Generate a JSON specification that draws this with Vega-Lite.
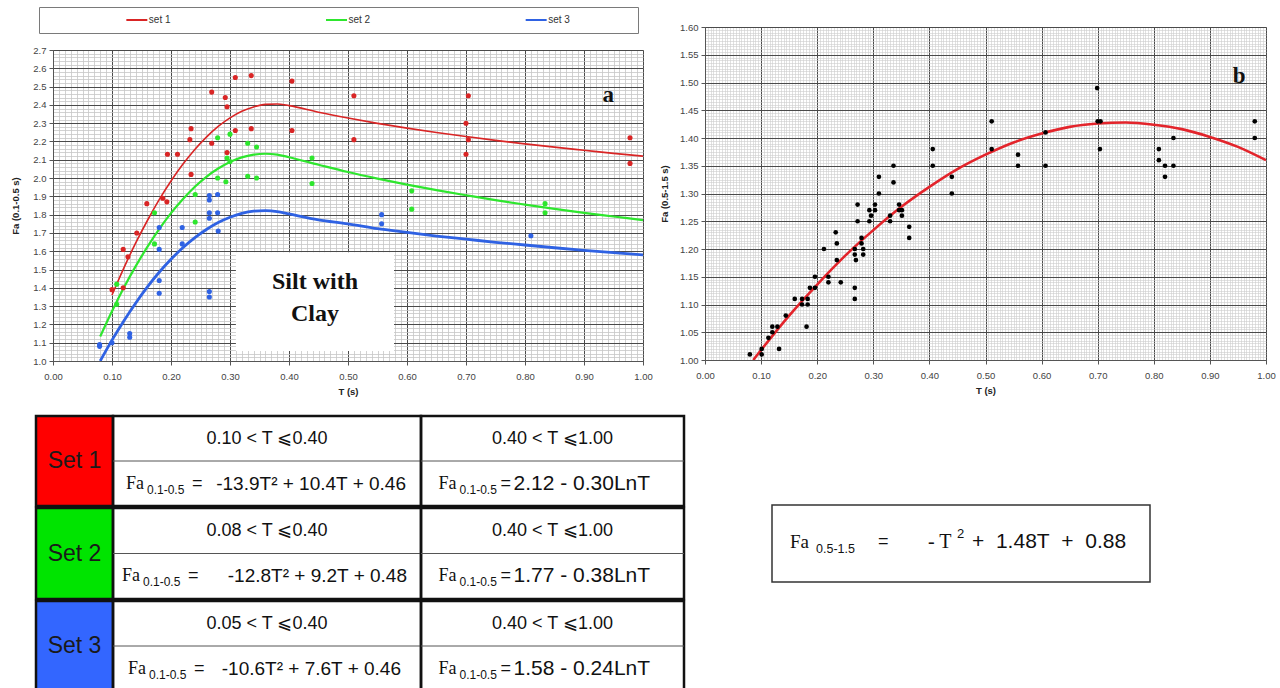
{
  "$schema": "https://vega.github.io/schema/vega-lite/v6.json",
  "background": "white",
  "padding": {"left": 10, "top": 6, "right": 0, "bottom": 0},
  "config": {
    "view": {"stroke": null},
    "font": "Liberation Sans",
    "axis": {"labelFont": "Liberation Sans", "titleFont": "Liberation Sans"},
    "text": {"font": "Liberation Sans", "color": "#111"}
  },
  "datasets": {
    "legend": [{"set": "set 1"}, {"set": "set 2"}, {"set": "set 3"}],
    "lpts": [
      {"set": "set 1", "T": 0.100, "Fa": 1.39}, {"set": "set 1", "T": 0.119, "Fa": 1.61}, {"set": "set 1", "T": 0.119, "Fa": 1.40},
      {"set": "set 1", "T": 0.127, "Fa": 1.57}, {"set": "set 1", "T": 0.142, "Fa": 1.70}, {"set": "set 1", "T": 0.159, "Fa": 1.86},
      {"set": "set 1", "T": 0.186, "Fa": 1.89}, {"set": "set 1", "T": 0.193, "Fa": 1.87}, {"set": "set 1", "T": 0.194, "Fa": 2.13},
      {"set": "set 1", "T": 0.211, "Fa": 2.13}, {"set": "set 1", "T": 0.232, "Fa": 2.21}, {"set": "set 1", "T": 0.234, "Fa": 2.27},
      {"set": "set 1", "T": 0.234, "Fa": 2.02}, {"set": "set 1", "T": 0.269, "Fa": 2.47}, {"set": "set 1", "T": 0.269, "Fa": 2.19},
      {"set": "set 1", "T": 0.292, "Fa": 2.44}, {"set": "set 1", "T": 0.295, "Fa": 2.39}, {"set": "set 1", "T": 0.295, "Fa": 2.14},
      {"set": "set 1", "T": 0.309, "Fa": 2.55}, {"set": "set 1", "T": 0.309, "Fa": 2.26}, {"set": "set 1", "T": 0.336, "Fa": 2.56},
      {"set": "set 1", "T": 0.336, "Fa": 2.27}, {"set": "set 1", "T": 0.405, "Fa": 2.53}, {"set": "set 1", "T": 0.405, "Fa": 2.26},
      {"set": "set 1", "T": 0.510, "Fa": 2.45}, {"set": "set 1", "T": 0.510, "Fa": 2.21}, {"set": "set 1", "T": 0.704, "Fa": 2.45},
      {"set": "set 1", "T": 0.700, "Fa": 2.30}, {"set": "set 1", "T": 0.704, "Fa": 2.21}, {"set": "set 1", "T": 0.700, "Fa": 2.13},
      {"set": "set 1", "T": 0.978, "Fa": 2.22}, {"set": "set 1", "T": 0.978, "Fa": 2.08},
      {"set": "set 2", "T": 0.108, "Fa": 1.42}, {"set": "set 2", "T": 0.108, "Fa": 1.31}, {"set": "set 2", "T": 0.172, "Fa": 1.81},
      {"set": "set 2", "T": 0.172, "Fa": 1.64}, {"set": "set 2", "T": 0.241, "Fa": 1.91}, {"set": "set 2", "T": 0.241, "Fa": 1.76},
      {"set": "set 2", "T": 0.279, "Fa": 2.22}, {"set": "set 2", "T": 0.279, "Fa": 2.00}, {"set": "set 2", "T": 0.293, "Fa": 1.98},
      {"set": "set 2", "T": 0.295, "Fa": 2.11}, {"set": "set 2", "T": 0.300, "Fa": 2.09}, {"set": "set 2", "T": 0.300, "Fa": 2.24},
      {"set": "set 2", "T": 0.330, "Fa": 2.19}, {"set": "set 2", "T": 0.330, "Fa": 2.01}, {"set": "set 2", "T": 0.345, "Fa": 2.17},
      {"set": "set 2", "T": 0.345, "Fa": 2.00}, {"set": "set 2", "T": 0.439, "Fa": 2.11}, {"set": "set 2", "T": 0.439, "Fa": 1.97},
      {"set": "set 2", "T": 0.608, "Fa": 1.93}, {"set": "set 2", "T": 0.608, "Fa": 1.83}, {"set": "set 2", "T": 0.834, "Fa": 1.86},
      {"set": "set 2", "T": 0.834, "Fa": 1.81},
      {"set": "set 3", "T": 0.079, "Fa": 1.09}, {"set": "set 3", "T": 0.079, "Fa": 1.08}, {"set": "set 3", "T": 0.100, "Fa": 1.10},
      {"set": "set 3", "T": 0.130, "Fa": 1.15}, {"set": "set 3", "T": 0.130, "Fa": 1.13}, {"set": "set 3", "T": 0.180, "Fa": 1.73},
      {"set": "set 3", "T": 0.180, "Fa": 1.61}, {"set": "set 3", "T": 0.180, "Fa": 1.44}, {"set": "set 3", "T": 0.180, "Fa": 1.37},
      {"set": "set 3", "T": 0.219, "Fa": 1.73}, {"set": "set 3", "T": 0.219, "Fa": 1.64}, {"set": "set 3", "T": 0.265, "Fa": 1.905},
      {"set": "set 3", "T": 0.265, "Fa": 1.88}, {"set": "set 3", "T": 0.279, "Fa": 1.91}, {"set": "set 3", "T": 0.265, "Fa": 1.81},
      {"set": "set 3", "T": 0.265, "Fa": 1.78}, {"set": "set 3", "T": 0.279, "Fa": 1.81}, {"set": "set 3", "T": 0.280, "Fa": 1.71},
      {"set": "set 3", "T": 0.265, "Fa": 1.38}, {"set": "set 3", "T": 0.265, "Fa": 1.35}, {"set": "set 3", "T": 0.557, "Fa": 1.80},
      {"set": "set 3", "T": 0.557, "Fa": 1.75}, {"set": "set 3", "T": 0.810, "Fa": 1.685}
    ],
    "lcurve": [
      {"set": "set 1", "T": 0.10, "Fa": 1.361}, {"set": "set 1", "T": 0.12, "Fa": 1.508}, {"set": "set 1", "T": 0.14, "Fa": 1.644},
      {"set": "set 1", "T": 0.16, "Fa": 1.768}, {"set": "set 1", "T": 0.18, "Fa": 1.882}, {"set": "set 1", "T": 0.20, "Fa": 1.984},
      {"set": "set 1", "T": 0.22, "Fa": 2.075}, {"set": "set 1", "T": 0.24, "Fa": 2.155}, {"set": "set 1", "T": 0.26, "Fa": 2.224},
      {"set": "set 1", "T": 0.28, "Fa": 2.282}, {"set": "set 1", "T": 0.30, "Fa": 2.329}, {"set": "set 1", "T": 0.32, "Fa": 2.365},
      {"set": "set 1", "T": 0.34, "Fa": 2.389}, {"set": "set 1", "T": 0.36, "Fa": 2.403}, {"set": "set 1", "T": 0.38, "Fa": 2.405},
      {"set": "set 1", "T": 0.40, "Fa": 2.396}, {"set": "set 1", "T": 0.45, "Fa": 2.360}, {"set": "set 1", "T": 0.50, "Fa": 2.328},
      {"set": "set 1", "T": 0.55, "Fa": 2.299}, {"set": "set 1", "T": 0.60, "Fa": 2.273}, {"set": "set 1", "T": 0.65, "Fa": 2.249},
      {"set": "set 1", "T": 0.70, "Fa": 2.227}, {"set": "set 1", "T": 0.75, "Fa": 2.206}, {"set": "set 1", "T": 0.80, "Fa": 2.187},
      {"set": "set 1", "T": 0.85, "Fa": 2.169}, {"set": "set 1", "T": 0.90, "Fa": 2.152}, {"set": "set 1", "T": 0.95, "Fa": 2.135},
      {"set": "set 1", "T": 1.00, "Fa": 2.120},
      {"set": "set 2", "T": 0.08, "Fa": 1.134}, {"set": "set 2", "T": 0.10, "Fa": 1.272}, {"set": "set 2", "T": 0.12, "Fa": 1.400},
      {"set": "set 2", "T": 0.14, "Fa": 1.517}, {"set": "set 2", "T": 0.16, "Fa": 1.624}, {"set": "set 2", "T": 0.18, "Fa": 1.721},
      {"set": "set 2", "T": 0.20, "Fa": 1.808}, {"set": "set 2", "T": 0.22, "Fa": 1.884}, {"set": "set 2", "T": 0.24, "Fa": 1.951},
      {"set": "set 2", "T": 0.26, "Fa": 2.007}, {"set": "set 2", "T": 0.28, "Fa": 2.052}, {"set": "set 2", "T": 0.30, "Fa": 2.088},
      {"set": "set 2", "T": 0.32, "Fa": 2.113}, {"set": "set 2", "T": 0.34, "Fa": 2.128}, {"set": "set 2", "T": 0.36, "Fa": 2.133},
      {"set": "set 2", "T": 0.38, "Fa": 2.128}, {"set": "set 2", "T": 0.40, "Fa": 2.114}, {"set": "set 2", "T": 0.45, "Fa": 2.073},
      {"set": "set 2", "T": 0.50, "Fa": 2.033}, {"set": "set 2", "T": 0.55, "Fa": 1.997}, {"set": "set 2", "T": 0.60, "Fa": 1.964},
      {"set": "set 2", "T": 0.65, "Fa": 1.934}, {"set": "set 2", "T": 0.70, "Fa": 1.906}, {"set": "set 2", "T": 0.75, "Fa": 1.879},
      {"set": "set 2", "T": 0.80, "Fa": 1.855}, {"set": "set 2", "T": 0.85, "Fa": 1.832}, {"set": "set 2", "T": 0.90, "Fa": 1.810},
      {"set": "set 2", "T": 0.95, "Fa": 1.790}, {"set": "set 2", "T": 1.00, "Fa": 1.770},
      {"set": "set 3", "T": 0.08, "Fa": 1.000}, {"set": "set 3", "T": 0.10, "Fa": 1.114}, {"set": "set 3", "T": 0.12, "Fa": 1.219},
      {"set": "set 3", "T": 0.14, "Fa": 1.316}, {"set": "set 3", "T": 0.16, "Fa": 1.405}, {"set": "set 3", "T": 0.18, "Fa": 1.485},
      {"set": "set 3", "T": 0.20, "Fa": 1.556}, {"set": "set 3", "T": 0.22, "Fa": 1.619}, {"set": "set 3", "T": 0.24, "Fa": 1.673},
      {"set": "set 3", "T": 0.26, "Fa": 1.719}, {"set": "set 3", "T": 0.28, "Fa": 1.757}, {"set": "set 3", "T": 0.30, "Fa": 1.786},
      {"set": "set 3", "T": 0.32, "Fa": 1.807}, {"set": "set 3", "T": 0.34, "Fa": 1.819}, {"set": "set 3", "T": 0.36, "Fa": 1.822},
      {"set": "set 3", "T": 0.38, "Fa": 1.817}, {"set": "set 3", "T": 0.40, "Fa": 1.804}, {"set": "set 3", "T": 0.45, "Fa": 1.772},
      {"set": "set 3", "T": 0.50, "Fa": 1.750}, {"set": "set 3", "T": 0.55, "Fa": 1.723}, {"set": "set 3", "T": 0.60, "Fa": 1.703},
      {"set": "set 3", "T": 0.65, "Fa": 1.683}, {"set": "set 3", "T": 0.70, "Fa": 1.666}, {"set": "set 3", "T": 0.75, "Fa": 1.649},
      {"set": "set 3", "T": 0.80, "Fa": 1.634}, {"set": "set 3", "T": 0.85, "Fa": 1.619}, {"set": "set 3", "T": 0.90, "Fa": 1.605},
      {"set": "set 3", "T": 0.95, "Fa": 1.592}, {"set": "set 3", "T": 1.00, "Fa": 1.580}
    ],
    "lbox": [{"T0": 0.31, "T1": 0.578, "F0": 1.055, "F1": 1.595}],
    "lsilt": [{"T": 0.444, "Fa": 1.43, "label": "Silt with"}, {"T": 0.444, "Fa": 1.255, "label": "Clay"}],
    "lletter": [{"T": 0.941, "Fa": 2.455, "label": "a"}],
    "rpts": [
      {"T": 0.080, "Fa": 1.01}, {"T": 0.101, "Fa": 1.02}, {"T": 0.101, "Fa": 1.01}, {"T": 0.113, "Fa": 1.04}, {"T": 0.120, "Fa": 1.05},
      {"T": 0.120, "Fa": 1.06}, {"T": 0.129, "Fa": 1.06}, {"T": 0.132, "Fa": 1.02}, {"T": 0.144, "Fa": 1.08}, {"T": 0.160, "Fa": 1.11},
      {"T": 0.173, "Fa": 1.11}, {"T": 0.173, "Fa": 1.10}, {"T": 0.183, "Fa": 1.11}, {"T": 0.183, "Fa": 1.10}, {"T": 0.181, "Fa": 1.06},
      {"T": 0.187, "Fa": 1.13}, {"T": 0.196, "Fa": 1.13}, {"T": 0.196, "Fa": 1.15}, {"T": 0.212, "Fa": 1.20}, {"T": 0.220, "Fa": 1.15},
      {"T": 0.220, "Fa": 1.14}, {"T": 0.233, "Fa": 1.23}, {"T": 0.235, "Fa": 1.21}, {"T": 0.235, "Fa": 1.18}, {"T": 0.242, "Fa": 1.14},
      {"T": 0.267, "Fa": 1.20}, {"T": 0.267, "Fa": 1.19}, {"T": 0.269, "Fa": 1.18}, {"T": 0.267, "Fa": 1.13}, {"T": 0.267, "Fa": 1.11},
      {"T": 0.272, "Fa": 1.28}, {"T": 0.272, "Fa": 1.25}, {"T": 0.279, "Fa": 1.22}, {"T": 0.279, "Fa": 1.21}, {"T": 0.282, "Fa": 1.20},
      {"T": 0.282, "Fa": 1.19}, {"T": 0.293, "Fa": 1.27}, {"T": 0.293, "Fa": 1.25}, {"T": 0.296, "Fa": 1.26}, {"T": 0.303, "Fa": 1.28},
      {"T": 0.303, "Fa": 1.27}, {"T": 0.310, "Fa": 1.30}, {"T": 0.310, "Fa": 1.33}, {"T": 0.330, "Fa": 1.26}, {"T": 0.330, "Fa": 1.25},
      {"T": 0.336, "Fa": 1.35}, {"T": 0.336, "Fa": 1.32}, {"T": 0.346, "Fa": 1.28}, {"T": 0.346, "Fa": 1.27}, {"T": 0.351, "Fa": 1.27},
      {"T": 0.351, "Fa": 1.26}, {"T": 0.364, "Fa": 1.24}, {"T": 0.364, "Fa": 1.22}, {"T": 0.406, "Fa": 1.38}, {"T": 0.406, "Fa": 1.35},
      {"T": 0.440, "Fa": 1.33}, {"T": 0.440, "Fa": 1.30}, {"T": 0.511, "Fa": 1.43}, {"T": 0.511, "Fa": 1.38}, {"T": 0.558, "Fa": 1.37},
      {"T": 0.558, "Fa": 1.35}, {"T": 0.607, "Fa": 1.41}, {"T": 0.607, "Fa": 1.35}, {"T": 0.699, "Fa": 1.49}, {"T": 0.700, "Fa": 1.43},
      {"T": 0.705, "Fa": 1.43}, {"T": 0.704, "Fa": 1.38}, {"T": 0.809, "Fa": 1.38}, {"T": 0.809, "Fa": 1.36}, {"T": 0.820, "Fa": 1.35},
      {"T": 0.820, "Fa": 1.33}, {"T": 0.835, "Fa": 1.40}, {"T": 0.835, "Fa": 1.35}, {"T": 0.980, "Fa": 1.43}, {"T": 0.980, "Fa": 1.40}
    ],
    "rcurve": [
      {"T": 0.086, "Fa": 1.000}, {"T": 0.10, "Fa": 1.018}, {"T": 0.15, "Fa": 1.080}, {"T": 0.20, "Fa": 1.136}, {"T": 0.25, "Fa": 1.188},
      {"T": 0.30, "Fa": 1.234}, {"T": 0.35, "Fa": 1.276}, {"T": 0.40, "Fa": 1.312}, {"T": 0.45, "Fa": 1.344}, {"T": 0.50, "Fa": 1.370},
      {"T": 0.55, "Fa": 1.392}, {"T": 0.60, "Fa": 1.408}, {"T": 0.65, "Fa": 1.420}, {"T": 0.70, "Fa": 1.426}, {"T": 0.75, "Fa": 1.428},
      {"T": 0.80, "Fa": 1.424}, {"T": 0.85, "Fa": 1.416}, {"T": 0.90, "Fa": 1.402}, {"T": 0.95, "Fa": 1.384}, {"T": 1.00, "Fa": 1.360}
    ],
    "rletter": [{"T": 0.952, "Fa": 1.512, "label": "b"}],
    "sets": [{"set": "Set 1"}, {"set": "Set 2"}, {"set": "Set 3"}],
    "cells": [
      {"set": "Set 1", "col": "c1", "part": "range", "t": "0.10 < T ⩽0.40"},
      {"set": "Set 1", "col": "c1", "part": "formula", "fa": "Fa", "sub": "0.1-0.5", "eq": "=", "expr": "-13.9T² + 10.4T + 0.46"},
      {"set": "Set 1", "col": "c2", "part": "range", "t": "0.40 < T ⩽1.00"},
      {"set": "Set 1", "col": "c2", "part": "formula", "fa": "Fa", "sub": "0.1-0.5", "eq": "=", "expr": "2.12 - 0.30LnT"},
      {"set": "Set 2", "col": "c1", "part": "range", "t": "0.08 < T ⩽0.40"},
      {"set": "Set 2", "col": "c1", "part": "formula", "fa": "Fa", "sub": "0.1-0.5", "eq": "=", "expr": "-12.8T² + 9.2T + 0.48"},
      {"set": "Set 2", "col": "c2", "part": "range", "t": "0.40 < T ⩽1.00"},
      {"set": "Set 2", "col": "c2", "part": "formula", "fa": "Fa", "sub": "0.1-0.5", "eq": "=", "expr": "1.77 - 0.38LnT"},
      {"set": "Set 3", "col": "c1", "part": "range", "t": "0.05 < T ⩽0.40"},
      {"set": "Set 3", "col": "c1", "part": "formula", "fa": "Fa", "sub": "0.1-0.5", "eq": "=", "expr": "-10.6T² + 7.6T + 0.46"},
      {"set": "Set 3", "col": "c2", "part": "range", "t": "0.40 < T ⩽1.00"},
      {"set": "Set 3", "col": "c2", "part": "formula", "fa": "Fa", "sub": "0.1-0.5", "eq": "=", "expr": "1.58 - 0.24LnT"}
    ],
    "rformula": [{"fa": "Fa", "sub": "0.5-1.5", "eq": "=", "lead": "- T", "sup": "2", "rest": "+\u00a0\u00a01.48T\u00a0\u00a0+\u00a0\u00a00.88"}]
  },
  "hconcat": [
    {
      "vconcat": [
        {
          "vconcat": [
            {
              "hconcat": [
                {"width": 1, "height": 1, "data": {"values": []}, "mark": "point"},
                {
                  "width": 599, "height": 26,
                  "view": {"stroke": "#7a7a7a", "strokeWidth": 1},
                  "data": {"name": "legend"},
                  "encoding": {"x": {"field": "set", "type": "nominal", "scale": {"type": "point", "padding": 0.5}, "axis": null}},
                  "layer": [
                    {"mark": {"type": "point", "shape": "stroke", "size": 440, "strokeWidth": 2, "filled": false, "opacity": 1, "xOffset": -2},
                     "encoding": {"color": {"field": "set", "type": "nominal", "scale": {"domain": ["set 1", "set 2", "set 3"], "range": ["#d92525", "#2ee62e", "#2f62e3"]}, "legend": null}}},
                    {"mark": {"type": "text", "align": "left", "dx": 10, "fontSize": 10, "color": "#333"},
                     "encoding": {"text": {"field": "set"}}}
                  ]
                }
              ],
              "spacing": 2, "bounds": "flush"
            },
            {
              "hconcat": [
                {"width": 1, "height": 1, "data": {"values": []}, "mark": "point"},
                {
                  "width": 590, "height": 311,
                  "view": {"stroke": "#555", "strokeWidth": 1},
                  "layer": [
                    {"data": {"name": "lpts"}, "mark": {"type": "point", "opacity": 0},
                     "encoding": {
                       "x": {"field": "T", "type": "quantitative", "scale": {"domain": [0, 1], "nice": false, "zero": false},
                             "axis": {"orient": "bottom", "tickCount": 100, "grid": true, "gridColor": "#c6c6c6", "gridWidth": 0.8, "labels": false, "ticks": false, "domain": false, "title": null}},
                       "y": {"field": "Fa", "type": "quantitative", "scale": {"domain": [1, 2.7], "nice": false, "zero": false},
                             "axis": {"orient": "left", "tickCount": 85, "grid": true, "gridColor": "#c6c6c6", "gridWidth": 0.8, "labels": false, "ticks": false, "domain": false, "title": null}}
                     }},
                    {"data": {"name": "lbox"}, "mark": {"type": "rect", "fill": "white"},
                     "encoding": {"x": {"field": "T0", "type": "quantitative", "axis": null}, "x2": {"field": "T1"},
                                  "y": {"field": "F0", "type": "quantitative", "axis": null}, "y2": {"field": "F1"}}},
                    {"data": {"name": "lcurve"}, "mark": {"type": "line", "interpolate": "monotone", "clip": true},
                     "encoding": {
                       "x": {"field": "T", "type": "quantitative",
                             "axis": {"orient": "bottom", "values": [0, 0.1, 0.2, 0.3, 0.4, 0.5, 0.6, 0.7, 0.8, 0.9, 1], "format": ".2f", "grid": true, "gridColor": "#4a4a4a", "gridWidth": 1, "domainColor": "#555", "tickColor": "#555", "tickSize": 4, "labelFontSize": 9.5, "labelColor": "#444", "labelPadding": 6, "labelFlush": false, "labelOverlap": false, "title": "T (s)", "titleFontSize": 9.5, "titleFontWeight": "bold", "titleColor": "#222", "titlePadding": 6}},
                       "y": {"field": "Fa", "type": "quantitative",
                             "axis": {"orient": "left", "values": [1, 1.1, 1.2, 1.3, 1.4, 1.5, 1.6, 1.7, 1.8, 1.9, 2, 2.1, 2.2, 2.3, 2.4, 2.5, 2.6, 2.7], "format": ".1f", "grid": true, "gridColor": "#4a4a4a", "gridWidth": 1, "domainColor": "#555", "tickColor": "#555", "tickSize": 4, "labelFontSize": 9.5, "labelColor": "#444", "labelPadding": 3, "labelFlush": false, "labelOverlap": false, "title": "Fa (0.1-0.5 s)", "titleFontSize": 9.5, "titleFontWeight": "bold", "titleColor": "#222", "titlePadding": 12}},
                       "color": {"field": "set", "type": "nominal", "scale": {"domain": ["set 1", "set 2", "set 3"], "range": ["#d92525", "#2ee62e", "#2f62e3"]}, "legend": null},
                       "strokeWidth": {"field": "set", "type": "ordinal", "scale": {"domain": ["set 1", "set 2", "set 3"], "range": [1.6, 2.8, 2.3]}, "legend": null}
                     }},
                    {"data": {"name": "lpts"}, "mark": {"type": "circle", "size": 26, "opacity": 1},
                     "encoding": {
                       "x": {"field": "T", "type": "quantitative", "axis": null},
                       "y": {"field": "Fa", "type": "quantitative", "axis": null},
                       "color": {"field": "set", "type": "nominal", "scale": {"domain": ["set 1", "set 2", "set 3"], "range": ["#d92525", "#2ee62e", "#2f62e3"]}, "legend": null}
                     }},
                    {"data": {"name": "lsilt"}, "mark": {"type": "text", "font": "Liberation Serif", "fontWeight": "bold", "fontSize": 24, "color": "#111"},
                     "encoding": {"x": {"field": "T", "type": "quantitative", "axis": null}, "y": {"field": "Fa", "type": "quantitative", "axis": null}, "text": {"field": "label"}}},
                    {"data": {"name": "lletter"}, "mark": {"type": "text", "font": "Liberation Serif", "fontWeight": "bold", "fontSize": 23, "color": "#111"},
                     "encoding": {"x": {"field": "T", "type": "quantitative", "axis": null}, "y": {"field": "Fa", "type": "quantitative", "axis": null}, "text": {"field": "label"}}}
                  ],
                  "resolve": {"axis": {"x": "independent", "y": "independent"}}
                }
              ],
              "spacing": 16, "bounds": "flush"
            }
          ],
          "spacing": 10
        },
        {
          "vconcat": [
            {
              "hconcat": [
                {"width": 77, "height": 90, "data": {"name": "sets"}, "transform": [{"filter": "datum.set === 'Set 1'"}],
                 "encoding": {"y": {"field": "set", "type": "nominal", "axis": null, "scale": {"paddingInner": 0, "paddingOuter": 0}}},
                 "layer": [
                   {"mark": {"type": "rect", "stroke": "#111", "strokeWidth": 2.5}, "encoding": {"fill": {"field": "set", "type": "nominal", "scale": {"domain": ["Set 1", "Set 2", "Set 3"], "range": ["#ff0000", "#00e400", "#3366ff"]}, "legend": null}}},
                   {"mark": {"type": "text", "fontSize": 23, "color": "#1a1a1a"}, "encoding": {"text": {"field": "set"}}}
                 ]},
                {"width": 308, "height": 90, "data": {"name": "cells"}, "transform": [{"filter": "datum.set === 'Set 1' && datum.col === 'c1'"}],
                 "view": {"stroke": "#111", "strokeWidth": 2.5},
                 "encoding": {"y": {"field": "part", "type": "nominal", "sort": ["range", "formula"], "axis": null, "scale": {"paddingInner": 0, "paddingOuter": 0}}},
                 "layer": [
                   {"transform": [{"filter": "datum.part === 'formula'"}], "mark": {"type": "rule", "color": "#555", "strokeWidth": 1}, "encoding": {"y": {"field": "part", "type": "nominal", "bandPosition": 0}}},
                   {"transform": [{"filter": "datum.part === 'range'"}], "mark": {"type": "text", "fontSize": 18}, "encoding": {"text": {"field": "t"}}},
                   {"transform": [{"filter": "datum.part === 'formula'"}], "mark": {"type": "text", "font": "Liberation Serif", "fontSize": 18, "align": "left", "dx": -141}, "encoding": {"text": {"field": "fa"}}},
                   {"transform": [{"filter": "datum.part === 'formula'"}], "mark": {"type": "text", "fontSize": 12, "align": "left", "dx": -120, "dy": 6}, "encoding": {"text": {"field": "sub"}}},
                   {"transform": [{"filter": "datum.part === 'formula'"}], "mark": {"type": "text", "fontSize": 18, "align": "left", "dx": -75}, "encoding": {"text": {"field": "eq"}}},
                   {"transform": [{"filter": "datum.part === 'formula'"}], "mark": {"type": "text", "fontSize": 19, "align": "right", "dx": 139}, "encoding": {"text": {"field": "expr"}}}
                 ]},
                {"width": 263, "height": 90, "data": {"name": "cells"}, "transform": [{"filter": "datum.set === 'Set 1' && datum.col === 'c2'"}],
                 "view": {"stroke": "#111", "strokeWidth": 2.5},
                 "encoding": {"y": {"field": "part", "type": "nominal", "sort": ["range", "formula"], "axis": null, "scale": {"paddingInner": 0, "paddingOuter": 0}}},
                 "layer": [
                   {"transform": [{"filter": "datum.part === 'formula'"}], "mark": {"type": "rule", "color": "#555", "strokeWidth": 1}, "encoding": {"y": {"field": "part", "type": "nominal", "bandPosition": 0}}},
                   {"transform": [{"filter": "datum.part === 'range'"}], "mark": {"type": "text", "fontSize": 18}, "encoding": {"text": {"field": "t"}}},
                   {"transform": [{"filter": "datum.part === 'formula'"}], "mark": {"type": "text", "font": "Liberation Serif", "fontSize": 18, "align": "left", "dx": -114}, "encoding": {"text": {"field": "fa"}}},
                   {"transform": [{"filter": "datum.part === 'formula'"}], "mark": {"type": "text", "fontSize": 12, "align": "left", "dx": -93, "dy": 6}, "encoding": {"text": {"field": "sub"}}},
                   {"transform": [{"filter": "datum.part === 'formula'"}], "mark": {"type": "text", "fontSize": 18, "align": "left", "dx": -52}, "encoding": {"text": {"field": "eq"}}},
                   {"transform": [{"filter": "datum.part === 'formula'"}], "mark": {"type": "text", "fontSize": 21, "align": "left", "dx": -39}, "encoding": {"text": {"field": "expr"}}}
                 ]}
              ],
              "spacing": 0, "bounds": "flush"
            },
            {
              "hconcat": [
                {"width": 77, "height": 91, "data": {"name": "sets"}, "transform": [{"filter": "datum.set === 'Set 2'"}],
                 "encoding": {"y": {"field": "set", "type": "nominal", "axis": null, "scale": {"paddingInner": 0, "paddingOuter": 0}}},
                 "layer": [
                   {"mark": {"type": "rect", "stroke": "#111", "strokeWidth": 2.5}, "encoding": {"fill": {"field": "set", "type": "nominal", "scale": {"domain": ["Set 1", "Set 2", "Set 3"], "range": ["#ff0000", "#00e400", "#3366ff"]}, "legend": null}}},
                   {"mark": {"type": "text", "fontSize": 23, "color": "#1a1a1a"}, "encoding": {"text": {"field": "set"}}}
                 ]},
                {"width": 308, "height": 91, "data": {"name": "cells"}, "transform": [{"filter": "datum.set === 'Set 2' && datum.col === 'c1'"}],
                 "view": {"stroke": "#111", "strokeWidth": 2.5},
                 "encoding": {"y": {"field": "part", "type": "nominal", "sort": ["range", "formula"], "axis": null, "scale": {"paddingInner": 0, "paddingOuter": 0}}},
                 "layer": [
                   {"transform": [{"filter": "datum.part === 'formula'"}], "mark": {"type": "rule", "color": "#555", "strokeWidth": 1}, "encoding": {"y": {"field": "part", "type": "nominal", "bandPosition": 0}}},
                   {"transform": [{"filter": "datum.part === 'range'"}], "mark": {"type": "text", "fontSize": 18}, "encoding": {"text": {"field": "t"}}},
                   {"transform": [{"filter": "datum.part === 'formula'"}], "mark": {"type": "text", "font": "Liberation Serif", "fontSize": 18, "align": "left", "dx": -145}, "encoding": {"text": {"field": "fa"}}},
                   {"transform": [{"filter": "datum.part === 'formula'"}], "mark": {"type": "text", "fontSize": 12, "align": "left", "dx": -124, "dy": 6}, "encoding": {"text": {"field": "sub"}}},
                   {"transform": [{"filter": "datum.part === 'formula'"}], "mark": {"type": "text", "fontSize": 18, "align": "left", "dx": -79}, "encoding": {"text": {"field": "eq"}}},
                   {"transform": [{"filter": "datum.part === 'formula'"}], "mark": {"type": "text", "fontSize": 19, "align": "right", "dx": 140}, "encoding": {"text": {"field": "expr"}}}
                 ]},
                {"width": 263, "height": 91, "data": {"name": "cells"}, "transform": [{"filter": "datum.set === 'Set 2' && datum.col === 'c2'"}],
                 "view": {"stroke": "#111", "strokeWidth": 2.5},
                 "encoding": {"y": {"field": "part", "type": "nominal", "sort": ["range", "formula"], "axis": null, "scale": {"paddingInner": 0, "paddingOuter": 0}}},
                 "layer": [
                   {"transform": [{"filter": "datum.part === 'formula'"}], "mark": {"type": "rule", "color": "#555", "strokeWidth": 1}, "encoding": {"y": {"field": "part", "type": "nominal", "bandPosition": 0}}},
                   {"transform": [{"filter": "datum.part === 'range'"}], "mark": {"type": "text", "fontSize": 18}, "encoding": {"text": {"field": "t"}}},
                   {"transform": [{"filter": "datum.part === 'formula'"}], "mark": {"type": "text", "font": "Liberation Serif", "fontSize": 18, "align": "left", "dx": -114}, "encoding": {"text": {"field": "fa"}}},
                   {"transform": [{"filter": "datum.part === 'formula'"}], "mark": {"type": "text", "fontSize": 12, "align": "left", "dx": -93, "dy": 6}, "encoding": {"text": {"field": "sub"}}},
                   {"transform": [{"filter": "datum.part === 'formula'"}], "mark": {"type": "text", "fontSize": 18, "align": "left", "dx": -52}, "encoding": {"text": {"field": "eq"}}},
                   {"transform": [{"filter": "datum.part === 'formula'"}], "mark": {"type": "text", "fontSize": 21, "align": "left", "dx": -39}, "encoding": {"text": {"field": "expr"}}}
                 ]}
              ],
              "spacing": 0, "bounds": "flush"
            },
            {
              "hconcat": [
                {"width": 77, "height": 90, "data": {"name": "sets"}, "transform": [{"filter": "datum.set === 'Set 3'"}],
                 "encoding": {"y": {"field": "set", "type": "nominal", "axis": null, "scale": {"paddingInner": 0, "paddingOuter": 0}}},
                 "layer": [
                   {"mark": {"type": "rect", "stroke": "#111", "strokeWidth": 2.5}, "encoding": {"fill": {"field": "set", "type": "nominal", "scale": {"domain": ["Set 1", "Set 2", "Set 3"], "range": ["#ff0000", "#00e400", "#3366ff"]}, "legend": null}}},
                   {"mark": {"type": "text", "fontSize": 23, "color": "#1a1a1a"}, "encoding": {"text": {"field": "set"}}}
                 ]},
                {"width": 308, "height": 90, "data": {"name": "cells"}, "transform": [{"filter": "datum.set === 'Set 3' && datum.col === 'c1'"}],
                 "view": {"stroke": "#111", "strokeWidth": 2.5},
                 "encoding": {"y": {"field": "part", "type": "nominal", "sort": ["range", "formula"], "axis": null, "scale": {"paddingInner": 0, "paddingOuter": 0}}},
                 "layer": [
                   {"transform": [{"filter": "datum.part === 'formula'"}], "mark": {"type": "rule", "color": "#555", "strokeWidth": 1}, "encoding": {"y": {"field": "part", "type": "nominal", "bandPosition": 0}}},
                   {"transform": [{"filter": "datum.part === 'range'"}], "mark": {"type": "text", "fontSize": 18}, "encoding": {"text": {"field": "t"}}},
                   {"transform": [{"filter": "datum.part === 'formula'"}], "mark": {"type": "text", "font": "Liberation Serif", "fontSize": 18, "align": "left", "dx": -139}, "encoding": {"text": {"field": "fa"}}},
                   {"transform": [{"filter": "datum.part === 'formula'"}], "mark": {"type": "text", "fontSize": 12, "align": "left", "dx": -118, "dy": 6}, "encoding": {"text": {"field": "sub"}}},
                   {"transform": [{"filter": "datum.part === 'formula'"}], "mark": {"type": "text", "fontSize": 18, "align": "left", "dx": -73}, "encoding": {"text": {"field": "eq"}}},
                   {"transform": [{"filter": "datum.part === 'formula'"}], "mark": {"type": "text", "fontSize": 19, "align": "right", "dx": 134}, "encoding": {"text": {"field": "expr"}}}
                 ]},
                {"width": 263, "height": 90, "data": {"name": "cells"}, "transform": [{"filter": "datum.set === 'Set 3' && datum.col === 'c2'"}],
                 "view": {"stroke": "#111", "strokeWidth": 2.5},
                 "encoding": {"y": {"field": "part", "type": "nominal", "sort": ["range", "formula"], "axis": null, "scale": {"paddingInner": 0, "paddingOuter": 0}}},
                 "layer": [
                   {"transform": [{"filter": "datum.part === 'formula'"}], "mark": {"type": "rule", "color": "#555", "strokeWidth": 1}, "encoding": {"y": {"field": "part", "type": "nominal", "bandPosition": 0}}},
                   {"transform": [{"filter": "datum.part === 'range'"}], "mark": {"type": "text", "fontSize": 18}, "encoding": {"text": {"field": "t"}}},
                   {"transform": [{"filter": "datum.part === 'formula'"}], "mark": {"type": "text", "font": "Liberation Serif", "fontSize": 18, "align": "left", "dx": -114}, "encoding": {"text": {"field": "fa"}}},
                   {"transform": [{"filter": "datum.part === 'formula'"}], "mark": {"type": "text", "fontSize": 12, "align": "left", "dx": -93, "dy": 6}, "encoding": {"text": {"field": "sub"}}},
                   {"transform": [{"filter": "datum.part === 'formula'"}], "mark": {"type": "text", "fontSize": 18, "align": "left", "dx": -52}, "encoding": {"text": {"field": "eq"}}},
                   {"transform": [{"filter": "datum.part === 'formula'"}], "mark": {"type": "text", "fontSize": 21, "align": "left", "dx": -39}, "encoding": {"text": {"field": "expr"}}}
                 ]}
              ],
              "spacing": 0, "bounds": "flush"
            }
          ],
          "spacing": -4
        }
      ],
      "spacing": 17
    },
    {
      "vconcat": [
        {
          "vconcat": [
            {"width": 1, "height": 1, "data": {"values": []}, "mark": "point"},
            {
              "width": 561, "height": 333,
              "view": {"stroke": "#555", "strokeWidth": 1},
              "layer": [
                {"data": {"name": "rpts"}, "mark": {"type": "point", "opacity": 0},
                 "encoding": {
                   "x": {"field": "T", "type": "quantitative", "scale": {"domain": [0, 1], "nice": false, "zero": false},
                         "axis": {"orient": "bottom", "tickCount": 200, "grid": true, "gridColor": "#cdcdcd", "gridWidth": 0.6, "labels": false, "ticks": false, "domain": false, "title": null}},
                   "y": {"field": "Fa", "type": "quantitative", "scale": {"domain": [1, 1.6], "nice": false, "zero": false},
                         "axis": {"orient": "left", "tickCount": 120, "grid": true, "gridColor": "#cdcdcd", "gridWidth": 0.6, "labels": false, "ticks": false, "domain": false, "title": null}}
                 }},
                {"data": {"name": "rcurve"}, "mark": {"type": "line", "interpolate": "monotone", "color": "#e3242b", "strokeWidth": 2.6, "clip": true},
                 "encoding": {
                   "x": {"field": "T", "type": "quantitative",
                         "axis": {"orient": "bottom", "values": [0, 0.1, 0.2, 0.3, 0.4, 0.5, 0.6, 0.7, 0.8, 0.9, 1], "format": ".2f", "grid": true, "gridColor": "#4a4a4a", "gridWidth": 1, "domainColor": "#555", "tickColor": "#555", "tickSize": 4, "labelFontSize": 9.5, "labelColor": "#444", "labelPadding": 6, "labelFlush": false, "labelOverlap": false, "title": "T (s)", "titleFontSize": 9.5, "titleFontWeight": "bold", "titleColor": "#222", "titlePadding": 6}},
                   "y": {"field": "Fa", "type": "quantitative",
                         "axis": {"orient": "left", "values": [1, 1.05, 1.1, 1.15, 1.2, 1.25, 1.3, 1.35, 1.4, 1.45, 1.5, 1.55, 1.6], "format": ".2f", "grid": true, "gridColor": "#4a4a4a", "gridWidth": 1, "domainColor": "#555", "tickColor": "#555", "tickSize": 4, "labelFontSize": 9.5, "labelColor": "#444", "labelPadding": 3, "labelFlush": false, "labelOverlap": false, "title": "Fa (0.5-1.5 s)", "titleFontSize": 9.5, "titleFontWeight": "bold", "titleColor": "#222", "titlePadding": 10}}
                 }},
                {"data": {"name": "rpts"}, "mark": {"type": "circle", "size": 22, "color": "#000", "opacity": 1},
                 "encoding": {"x": {"field": "T", "type": "quantitative", "axis": null}, "y": {"field": "Fa", "type": "quantitative", "axis": null}}},
                {"data": {"name": "rletter"}, "mark": {"type": "text", "font": "Liberation Serif", "fontWeight": "bold", "fontSize": 23, "color": "#111"},
                 "encoding": {"x": {"field": "T", "type": "quantitative", "axis": null}, "y": {"field": "Fa", "type": "quantitative", "axis": null}, "text": {"field": "label"}}}
              ],
              "resolve": {"axis": {"x": "independent", "y": "independent"}}
            }
          ],
          "spacing": 19, "bounds": "flush"
        },
        {
          "hconcat": [
            {"width": 1, "height": 1, "data": {"values": []}, "mark": "point"},
            {
              "width": 378, "height": 77,
              "view": {"stroke": "#333", "strokeWidth": 1.5},
              "data": {"name": "rformula"},
              "layer": [
                {"mark": {"type": "text", "font": "Liberation Serif", "fontSize": 19, "align": "left", "dx": -171, "dy": -2}, "encoding": {"text": {"field": "fa"}}},
                {"mark": {"type": "text", "fontSize": 12.5, "align": "left", "dx": -145, "dy": 5}, "encoding": {"text": {"field": "sub"}}},
                {"mark": {"type": "text", "fontSize": 18, "align": "left", "dx": -83, "dy": -2}, "encoding": {"text": {"field": "eq"}}},
                {"mark": {"type": "text", "font": "Liberation Serif", "fontSize": 20, "align": "left", "dx": -33, "dy": -2}, "encoding": {"text": {"field": "lead"}}},
                {"mark": {"type": "text", "fontSize": 13, "align": "left", "dx": -4, "dy": -10}, "encoding": {"text": {"field": "sup"}}},
                {"mark": {"type": "text", "fontSize": 21, "align": "left", "dx": 11, "dy": -2}, "encoding": {"text": {"field": "rest"}}}
              ]
            }
          ],
          "spacing": 66, "bounds": "flush"
        }
      ],
      "spacing": 108
    }
  ],
  "spacing": -27
}
